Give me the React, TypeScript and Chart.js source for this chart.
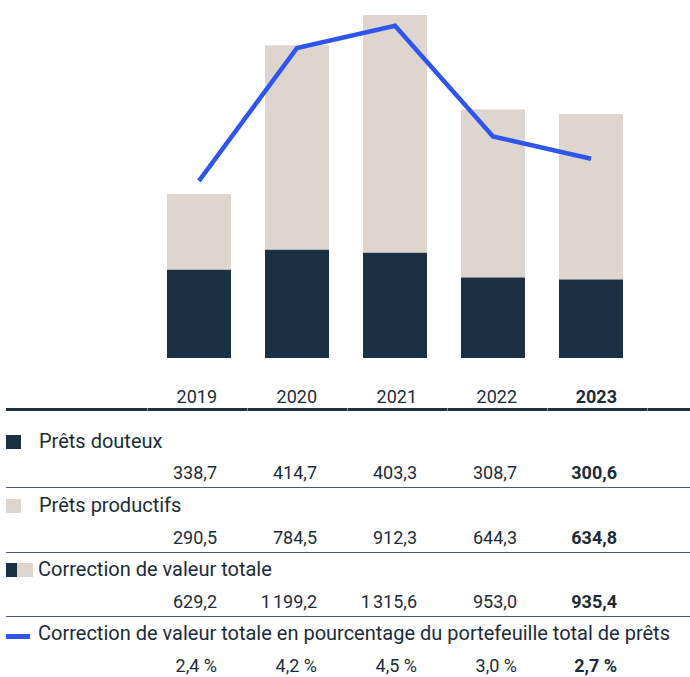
import React, { useEffect, useRef } from "react";
import { Chart, registerables } from "chart.js";

Chart.register(...registerables);

const years = ["2019", "2020", "2021", "2022", "2023"];
const doubtful = [338.7, 414.7, 403.3, 308.7, 300.6];
const performing = [290.5, 784.5, 912.3, 644.3, 634.8];
const totals = [629.2, 1199.2, 1315.6, 953.0, 935.4];
const pctOfPortfolio = [2.4, 4.2, 4.5, 3.0, 2.7];

const labelDoubtful = "Prêts douteux";
const labelPerforming = "Prêts productifs";
const labelTotal = "Correction de valeur totale";
const labelPct = "Correction de valeur totale en pourcentage du portefeuille total de prêts";

const DARK = "#1b3042";
const LIGHT = "#ded5cf";
const BLUE = "#2f55ef";
const TEXT = "#1b2b3a";
const FONT = "Roboto, 'Noto Sans', sans-serif";

function fmt(v: number): string {
  const [i, d] = v.toFixed(1).split(".");
  const withSep = i.replace(/\B(?=(\d{3})+(?!\d))/g, "\u202f");
  return withSep + "," + d;
}
function fmtPct(v: number): string {
  return v.toFixed(1).replace(".", ",") + "\u00a0%";
}

const colRights = [217, 317, 417, 517, 617];
const colBounds = [147, 247, 347, 447, 547, 647];

function Txt(props: { x: number; y: number; right?: boolean; bold?: boolean; size?: number; children: React.ReactNode }) {
  const { x, y, right, bold, size, children } = props;
  const style: React.CSSProperties = {
    position: "absolute",
    top: y - 12,
    height: 24,
    lineHeight: "24px",
    fontFamily: FONT,
    fontSize: size ?? 18,
    fontWeight: bold ? 700 : 400,
    color: TEXT,
    whiteSpace: "nowrap",
  };
  if (right) {
    style.right = 690 - x;
    style.textAlign = "right";
  } else {
    style.left = x;
  }
  return <div style={style}>{children}</div>;
}

function Rect(props: { x: number; y: number; w: number; h: number; c: string }) {
  return (
    <div
      style={{
        position: "absolute",
        left: props.x,
        top: props.y,
        width: props.w,
        height: props.h,
        background: props.c,
      }}
    />
  );
}

const LBL = 20;

export default function App() {
  const ref = useRef<HTMLCanvasElement | null>(null);

  useEffect(() => {
    if (!ref.current) return;
    const chart = new Chart(ref.current, {
      type: "bar",
      data: {
        labels: years,
        datasets: [
          {
            type: "line",
            label: labelPct,
            data: pctOfPortfolio,
            yAxisID: "y2",
            borderColor: BLUE,
            borderWidth: 4.5,
            pointRadius: 0,
            tension: 0,
            fill: false,
            order: 0,
          } as any,
          {
            label: labelDoubtful,
            data: doubtful,
            backgroundColor: DARK,
            stack: "s",
            order: 1,
            barPercentage: 0.653,
            categoryPercentage: 1,
          },
          {
            label: labelPerforming,
            data: performing,
            backgroundColor: LIGHT,
            stack: "s",
            order: 1,
            barPercentage: 0.653,
            categoryPercentage: 1,
          },
        ],
      },
      options: {
        animation: false,
        responsive: false,
        maintainAspectRatio: false,
        layout: { padding: { left: 150, right: 50, top: 0, bottom: 0 } },
        plugins: { legend: { display: false }, tooltip: { enabled: false } },
        scales: {
          x: { stacked: true, display: false, offset: true },
          y: { stacked: true, display: false, min: 0, max: 1373 },
          y2: { display: false, min: 0, max: 4.85 },
        },
      },
    });
    return () => chart.destroy();
  }, []);

  return (
    <div style={{ position: "absolute", left: 0, top: 0, width: 690, height: 677, background: "#fff", overflow: "hidden" }}>
      <canvas ref={ref} width={690} height={358} style={{ position: "absolute", left: 0, top: 0, width: 690, height: 358 }} />

      {years.map((y, i) => (
        <Txt key={"y" + i} x={colRights[i]} y={397} right bold={i === years.length - 1}>
          {y}
        </Txt>
      ))}
      <Rect x={6} y={408} w={684} h={3} c={DARK} />
      {colBounds.map((b, i) => (
        <Rect key={"n" + i} x={b} y={408} w={1} h={3} c="#7d8891" />
      ))}

      <Rect x={6} y={435} w={15} h={14} c={DARK} />
      <Txt x={39} y={441} size={LBL}>{labelDoubtful}</Txt>
      {doubtful.map((v, i) => (
        <Txt key={"d" + i} x={colRights[i]} y={473} right bold={i === 4}>
          {fmt(v)}
        </Txt>
      ))}
      <Rect x={6} y={487} w={684} h={1} c="#4f5c67" />

      <Rect x={6} y={499} w={15} h={14} c={LIGHT} />
      <Txt x={39} y={505} size={LBL}>{labelPerforming}</Txt>
      {performing.map((v, i) => (
        <Txt key={"p" + i} x={colRights[i]} y={538} right bold={i === 4}>
          {fmt(v)}
        </Txt>
      ))}
      <Rect x={6} y={552} w={684} h={1} c="#4f5c67" />

      <Rect x={6} y={563} w={11} h={14} c={DARK} />
      <Rect x={17} y={563} w={16} h={14} c={LIGHT} />
      <Txt x={38} y={569} size={LBL}>{labelTotal}</Txt>
      {totals.map((v, i) => (
        <Txt key={"t" + i} x={colRights[i]} y={602} right bold={i === 4}>
          {fmt(v)}
        </Txt>
      ))}
      <Rect x={6} y={616} w={684} h={1} c="#4f5c67" />

      <Rect x={6} y={634} w={24} h={5} c={BLUE} />
      <Txt x={38} y={633} size={LBL}>{labelPct}</Txt>
      {pctOfPortfolio.map((v, i) => (
        <Txt key={"c" + i} x={colRights[i]} y={666} right bold={i === 4}>
          {fmtPct(v)}
        </Txt>
      ))}
    </div>
  );
}
